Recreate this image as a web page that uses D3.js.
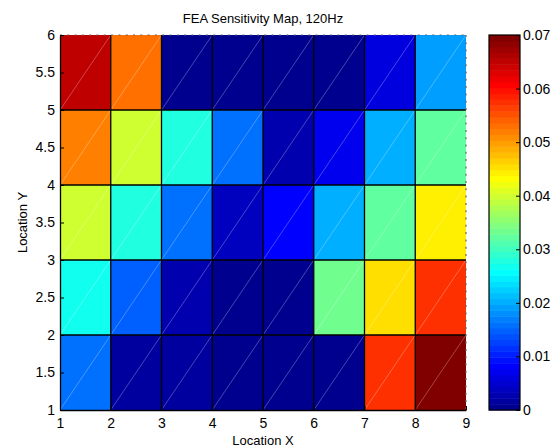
<!DOCTYPE html>
<html>
<head>
<meta charset="utf-8">
<script src="https://cdn.jsdelivr.net/npm/d3@7"></script>
<style>
  html, body { margin: 0; padding: 0; background: #fff; }
  svg { display: block; }
  text { font-family: "Liberation Sans", Arial, Helvetica, sans-serif; }
</style>
</head>
<body>
<svg id="chart" width="559" height="448"></svg>
<script>
// ---- data ----
const title = "FEA Sensitivity Map, 120Hz";
const xLabel = "Location X";
const yLabel = "Location Y";
const xEdges = [1, 2, 3, 4, 5, 6, 7, 8, 9];
const yEdges = [1, 2, 3, 4, 5, 6];
const xTicks = [1, 2, 3, 4, 5, 6, 7, 8, 9];
const yTicks = [1, 1.5, 2, 2.5, 3, 3.5, 4, 4.5, 5, 5.5, 6];
const cbTicks = [0, 0.01, 0.02, 0.03, 0.04, 0.05, 0.06, 0.07];
const cbDomain = [0, 0.07];
// values per row (y from 1-2 up to 5-6), columns x = 1..8
const row1 = [0.0159, 0.0016, 0.0014, 0.0005, 0.0004, 0.0005, 0.0574, 0.0695];
const row2 = [0.0268, 0.0148, 0.0027, 0.0005, 0.0004, 0.0334, 0.0454, 0.0574];
const row3 = [0.0399, 0.0279, 0.0159, 0.0038, 0.0082, 0.0202, 0.0323, 0.0443];
const row4 = [0.0520, 0.0399, 0.0279, 0.0159, 0.0027, 0.0071, 0.0202, 0.0323];
const row5 = [0.0651, 0.0531, 0.0005, 0.0005, 0.0005, 0.0005, 0.0060, 0.0191];
const rows = [row1, row2, row3, row4, row5];

// ---- jet(64) colormap ----
function jet64() {
  const out = [];
  for (let i = 1; i <= 64; i++) {
    let r, g, b;
    if (i <= 8) { r = 0; g = 0; b = 0.5 + i * 0.0625; }
    else if (i <= 24) { r = 0; g = (i - 8) * 0.0625; b = 1; }
    else if (i <= 40) { r = (i - 24) * 0.0625; g = 1; b = 1 - (i - 24) * 0.0625; }
    else if (i <= 56) { r = 1; g = 1 - (i - 40) * 0.0625; b = 0; }
    else { r = 1 - (i - 56) * 0.0625; g = 0; b = 0; }
    out.push(d3.rgb(Math.round(r * 255), Math.round(g * 255), Math.round(b * 255)).formatHex());
  }
  return out;
}
const jet = jet64();

// ---- layout ----
const svg = d3.select("#chart");
const L = 60, R = 466, T = 35, B = 410;
const cbL = 489, cbR = 520;

const x = d3.scaleLinear().domain([1, 9]).range([L, R]);
const y = d3.scaleLinear().domain([1, 6]).range([B, T]);
const color = d3.scaleQuantize().domain(cbDomain).range(jet);
const cy = d3.scaleLinear().domain(cbDomain).range([B, T]);

// cells
const cells = [];
rows.forEach((row, j) => row.forEach((v, i) => cells.push({ x0: xEdges[i], x1: xEdges[i + 1], y0: yEdges[j], y1: yEdges[j + 1], v })));

const g = svg.append("g");
g.selectAll("rect.cell").data(cells).join("rect")
  .attr("class", "cell")
  .attr("x", d => x(d.x0)).attr("y", d => y(d.y1))
  .attr("width", d => x(d.x1) - x(d.x0)).attr("height", d => y(d.y0) - y(d.y1))
  .attr("fill", d => color(d.v));

// faint diagonal seams
g.selectAll("line.diag").data(cells).join("line")
  .attr("class", "diag")
  .attr("x1", d => x(d.x0)).attr("y1", d => y(d.y0))
  .attr("x2", d => x(d.x1)).attr("y2", d => y(d.y1))
  .attr("stroke", "#fff").attr("stroke-opacity", 0.35).attr("stroke-width", 0.8);

// cell edges
g.selectAll("line.vx").data(xEdges.slice(1, -1)).join("line")
  .attr("x1", d => x(d)).attr("x2", d => x(d)).attr("y1", T).attr("y2", B)
  .attr("stroke", "#000").attr("stroke-width", 1.3);
g.selectAll("line.hy").data(yEdges.slice(1, -1)).join("line")
  .attr("y1", d => y(d)).attr("y2", d => y(d)).attr("x1", L).attr("x2", R)
  .attr("stroke", "#000").attr("stroke-width", 1.3);

// top/right dotted border
svg.append("line").attr("x1", L).attr("x2", R).attr("y1", T).attr("y2", T)
  .attr("stroke", "#666").attr("stroke-width", 1.2).attr("stroke-dasharray", "2,5.3");
svg.append("line").attr("x1", R).attr("x2", R).attr("y1", T).attr("y2", B)
  .attr("stroke", "#666").attr("stroke-width", 1.2).attr("stroke-dasharray", "2,5.3");

// axes
const fs = "14px";
const xAxis = svg.append("g").attr("transform", `translate(0,${B})`)
  .call(d3.axisBottom(x).tickValues(xTicks).tickFormat(d3.format("d")).tickSizeInner(-4).tickSizeOuter(0).tickPadding(8));
const yAxis = svg.append("g").attr("transform", `translate(${L},0)`)
  .call(d3.axisLeft(y).tickValues(yTicks).tickFormat(d => String(d)).tickSizeInner(-4).tickSizeOuter(0).tickPadding(5));
[xAxis, yAxis].forEach(a => {
  a.select(".domain").attr("stroke", "#000").attr("stroke-width", 1.3);
  a.selectAll(".tick line").attr("stroke", "#000");
  a.selectAll("text").attr("font-size", fs).attr("fill", "#000")
    .style("font-family", '"Liberation Sans", Arial, sans-serif');
});

// colorbar
const bands = d3.range(64);
const step = (cbDomain[1] - cbDomain[0]) / 64;
svg.append("g").selectAll("rect").data(bands).join("rect")
  .attr("x", cbL).attr("width", cbR - cbL)
  .attr("y", i => cy(cbDomain[0] + (i + 1) * step))
  .attr("height", i => cy(cbDomain[0] + i * step) - cy(cbDomain[0] + (i + 1) * step) + 0.5)
  .attr("fill", i => jet[i]);
svg.append("rect").attr("x", cbL).attr("y", T).attr("width", cbR - cbL).attr("height", B - T)
  .attr("fill", "none").attr("stroke", "#000").attr("stroke-width", 1.2);
const cbAxis = svg.append("g").attr("transform", `translate(${cbR},0)`)
  .call(d3.axisRight(cy).tickValues(cbTicks).tickFormat(d => d === 0 ? "0" : d3.format(".2f")(d)).tickSizeInner(-4).tickSizeOuter(0).tickPadding(3));
cbAxis.select(".domain").remove();
cbAxis.selectAll(".tick line").attr("stroke", "#000");
cbAxis.selectAll("text").attr("font-size", fs).attr("fill", "#000")
  .style("font-family", '"Liberation Sans", Arial, sans-serif');

// titles
svg.append("text").attr("x", (L + R) / 2).attr("y", 23).attr("text-anchor", "middle")
  .attr("font-size", "13px").text(title);
svg.append("text").attr("x", (L + R) / 2).attr("y", 445).attr("text-anchor", "middle")
  .attr("font-size", "13px").text(xLabel);
svg.append("text").attr("transform", `translate(27,${(T + B) / 2}) rotate(-90)`).attr("text-anchor", "middle")
  .attr("font-size", "13px").text(yLabel);
</script>
</body>
</html>
